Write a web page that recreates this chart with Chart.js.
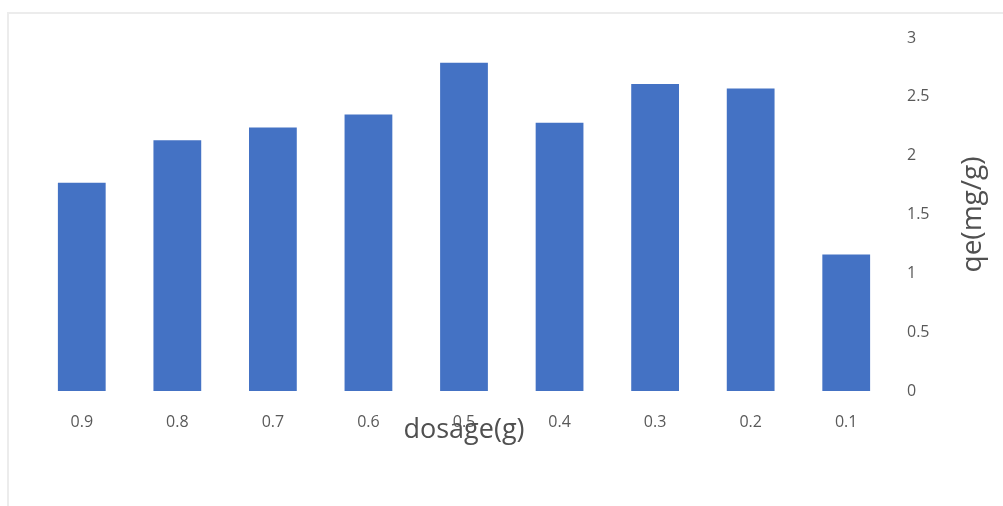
<!DOCTYPE html>
<html lang="en">
<head>
  <meta charset="UTF-8" />
  <title>qe vs dosage</title>
  <script src="https://cdn.jsdelivr.net/npm/chart.js"></script>
  <style>
    body { margin: 0; background: #fff; width: 1003px; height: 506px; overflow: hidden; position: relative; }
    .frame { position: absolute; left: 7px; top: 12px; right: 0; bottom: 0; border-top: 2px solid #ececec; border-left: 2px solid #ececec; }
    #chart { position: absolute; left: 0; top: 0; }
  </style>
</head>
<body>
  <div class="frame"></div>
  <canvas id="chart" width="1003" height="506"></canvas>

  <script>
    const dosage = ["0.9", "0.8", "0.7", "0.6", "0.5", "0.4", "0.3", "0.2", "0.1"];
    const qe = [1.77, 2.13, 2.24, 2.35, 2.79, 2.28, 2.61, 2.57, 1.16];
    const yTitle = "qe(mg/g)";
    const xTitle = "dosage(g)";

    const FONT = "'Open Sans', sans-serif";
    const GREY = "#595959";
    const TITLE_GREY = "#505050";

    // right-hand axis title, reading bottom to top
    const yTitlePlugin = {
      id: "yTitle",
      afterDraw(chart) {
        const ctx = chart.ctx;
        const area = chart.chartArea;
        ctx.save();
        ctx.translate(973, (area.top + area.bottom) / 2);
        ctx.rotate(-Math.PI / 2);
        ctx.fillStyle = TITLE_GREY;
        ctx.font = "28px " + FONT;
        ctx.textAlign = "center";
        ctx.textBaseline = "middle";
        ctx.fillText(yTitle, 0, 0);
        ctx.restore();
      }
    };

    new Chart(document.getElementById("chart"), {
      type: "bar",
      data: {
        labels: dosage,
        datasets: [{
          data: qe,
          backgroundColor: "#4472C4",
          barPercentage: 0.5,
          categoryPercentage: 1
        }]
      },
      options: {
        responsive: false,
        animation: false,
        layout: { padding: { left: 34, top: 38, right: 0, bottom: 59 } },
        plugins: { legend: { display: false }, tooltip: { enabled: false } },
        scales: {
          x: {
            grid: { display: false, drawTicks: false },
            border: { display: false },
            ticks: { color: GREY, font: { family: FONT, size: 16 }, padding: 22 },
            title: { display: true, text: xTitle, color: TITLE_GREY, font: { family: FONT, size: 27 }, padding: 0 },
            afterFit(scale) { scale.height = 56; }
          },
          y: {
            position: "right",
            min: 0,
            max: 3,
            grid: { display: false, drawTicks: false },
            border: { display: false },
            ticks: {
              stepSize: 0.5,
              color: GREY,
              font: { family: FONT, size: 16 },
              padding: 13,
              callback: v => String(v)
            },
            afterFit(scale) { scale.width = 109; }
          }
        }
      },
      plugins: [yTitlePlugin]
    });
  </script>
</body>
</html>
